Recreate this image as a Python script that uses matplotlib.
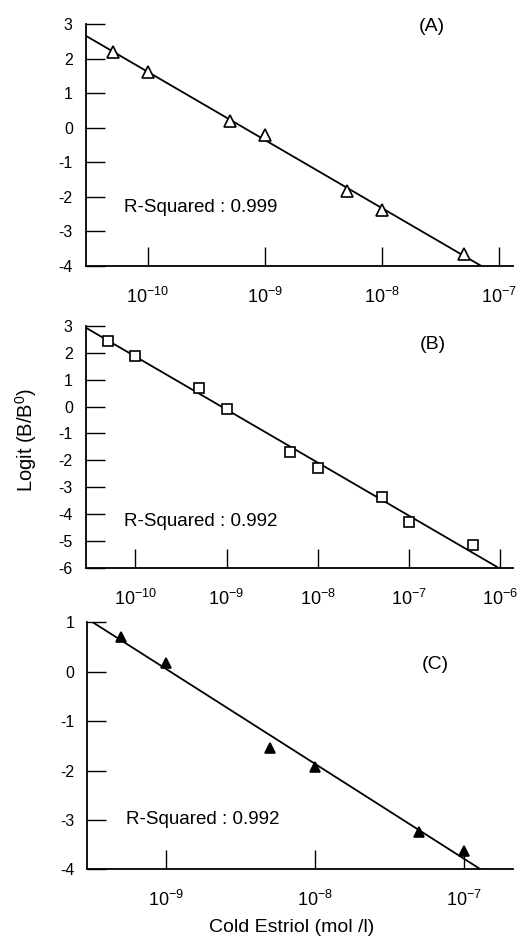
import matplotlib
matplotlib.use('Agg')
import matplotlib.pyplot as plt
import numpy as np

plt.rcParams['font.family'] = ['Liberation Sans', 'DejaVu Sans']
plt.rcParams['mathtext.fontset'] = 'custom'
plt.rcParams['mathtext.rm'] = 'Liberation Sans'
plt.rcParams['mathtext.it'] = 'Liberation Sans'

# Panel A - open triangles
conc_a = [5e-11, 1e-10, 5e-10, 1e-9, 5e-9, 1e-8, 5e-8]
logit_a = [2.2, 1.6, 0.2, -0.2, -1.83, -2.38, -3.65]
# Panel B - open squares
conc_b = [5e-11, 1e-10, 5e-10, 1e-9, 5e-9, 1e-8, 5e-8, 1e-7, 5e-7]
logit_b = [2.45, 1.9, 0.7, -0.08, -1.7, -2.27, -3.37, -4.31, -5.17]
# Panel C - filled triangles
conc_c = [5e-10, 1e-9, 5e-9, 1e-8, 5e-8, 1e-7]
logit_c = [0.7, 0.18, -1.54, -1.92, -3.25, -3.62]

r2_labels = ['R-Squared : 0.999', 'R-Squared : 0.992', 'R-Squared : 0.992']
panel_labels = ['(A)', '(B)', '(C)']

fig = plt.figure(figsize=(5.2, 9.39), dpi=100)

panels = [
    dict(rect=[0.1654, 0.7167, 0.8211, 0.2577], x=conc_a, y=logit_a, marker='^', fill='none',
         xlim=(10**-10.53, 10**-6.88), ylim=(-4, 3), xt=[-10, -9, -8, -7],
         lab=(0.81, 0.99), r2=(0.089, 0.24), ms=8),
    dict(rect=[0.1654, 0.3954, 0.8211, 0.2574], x=conc_b, y=logit_b, marker='s', fill='none',
         xlim=(10**-10.54, 10**-5.86), ylim=(-6, 3), xt=[-10, -9, -8, -7, -6],
         lab=(0.813, 0.925), r2=(0.089, 0.19), ms=7),
    dict(rect=[0.168, 0.0742, 0.8185, 0.2629], x=conc_c, y=logit_c, marker='^', fill='black',
         xlim=(10**-9.53, 10**-6.67), ylim=(-4, 1), xt=[-9, -8, -7],
         lab=(0.817, 0.83), r2=(0.091, 0.2), ms=6.5),
]

for i, p in enumerate(panels):
    ax = fig.add_axes(p['rect'])
    ax.set_xscale('log')
    ax.set_xlim(p['xlim'])
    ax.set_ylim(p['ylim'])

    # regression line on log concentration
    lx = np.log10(p['x'])
    k, b = np.polyfit(lx, p['y'], 1)
    xx = np.array([np.log10(p['xlim'][0]), np.log10(p['xlim'][1])])
    ax.plot(10**xx, k * xx + b, color='black', lw=1.3, zorder=2)

    ax.plot(p['x'], p['y'], linestyle='none', marker=p['marker'], ms=p['ms'],
            mfc=p['fill'] if p['fill'] != 'none' else 'white', mec='black', mew=1.2, zorder=3)

    ax.spines['top'].set_visible(False)
    ax.spines['right'].set_visible(False)
    ax.spines['left'].set_linewidth(1.3)
    ax.spines['bottom'].set_linewidth(1.3)

    ax.set_xticks([10.0**e for e in p['xt']],
                  labels=['$\\mathregular{10^{%d}}$' % e for e in p['xt']])
    ax.xaxis.set_minor_locator(matplotlib.ticker.NullLocator())
    yt = list(range(p['ylim'][0], p['ylim'][1] + 1))
    ax.set_yticks(yt, labels=[str(v) for v in yt])

    ax.tick_params(axis='both', direction='in', length=13.5, width=1.0)
    ax.tick_params(axis='x', labelsize=13, pad=15)
    ax.tick_params(axis='y', labelsize=11.5, pad=9.5)

    ax.text(p['lab'][0], p['lab'][1], panel_labels[i], transform=ax.transAxes,
            ha='center', va='center', fontsize=14)
    ax.text(p['r2'][0], p['r2'][1], r2_labels[i], transform=ax.transAxes,
            ha='left', va='center', fontsize=13.5)

fig.text(0.05, 0.532, 'Logit (B/B$^{\\mathregular{0}}$)', rotation=90,
         ha='center', va='center', fontsize=14.5)
fig.text(0.5615, 0.0125, 'Cold Estriol (mol /l)', ha='center', va='center', fontsize=14)

fig.savefig('out.png', dpi=100)
